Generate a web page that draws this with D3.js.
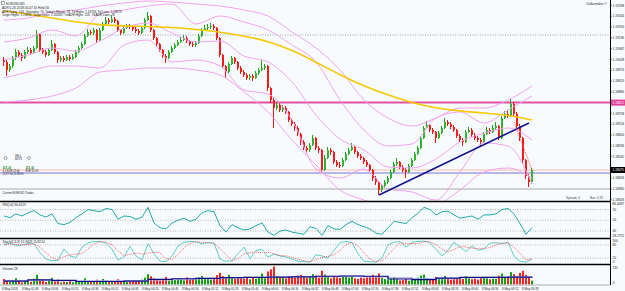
<!DOCTYPE html>
<html>
<head>
<meta charset="utf-8">
<title>EURUSD,M1</title>
<script src="https://cdn.jsdelivr.net/npm/d3@7/dist/d3.min.js"></script>
<style>
    body { margin: 0; background: #f8fbfe; }
    svg { display: block; font-family: "Liberation Sans", Arial, sans-serif; }
</style>
</head>
<body>
<svg id="mysvg" width="625" height="291"></svg>
<script>
// EURUSD M1 bars, one entry per bar
var opens = [
    1.19025, 1.19015, 1.18975, 1.18995, 1.19035, 1.19065, 1.19050, 1.19035, 1.19065, 1.19075,
    1.19060, 1.19085, 1.19155, 1.19075, 1.19065, 1.19050, 1.19075, 1.19105, 1.19065, 1.19025,
    1.19035, 1.19025, 1.19040, 1.19030, 1.19040, 1.19065, 1.19085, 1.19105, 1.19145, 1.19165,
    1.19160, 1.19175, 1.19125, 1.19175, 1.19205, 1.19225, 1.19215, 1.19230, 1.19220, 1.19175,
    1.19160, 1.19185, 1.19195, 1.19190, 1.19180, 1.19170, 1.19160, 1.19185, 1.19225, 1.19245,
    1.19175, 1.19135, 1.19105, 1.19075, 1.19045, 1.19035, 1.19065, 1.19085, 1.19100, 1.19115,
    1.19125, 1.19135, 1.19120, 1.19105, 1.19100, 1.19110, 1.19145, 1.19175, 1.19185, 1.19190,
    1.19195, 1.19185, 1.19135, 1.19050, 1.18995, 1.18965, 1.19005, 1.19035, 1.19015, 1.18985,
    1.18965, 1.18950, 1.18935, 1.18945, 1.18935, 1.18960, 1.18975, 1.18985, 1.18995, 1.18885,
    1.18825, 1.18785, 1.18800, 1.18775, 1.18785, 1.18765, 1.18725, 1.18705, 1.18685, 1.18655,
    1.18615, 1.18585, 1.18575, 1.18600, 1.18635, 1.18585, 1.18575, 1.18475, 1.18535, 1.18575,
    1.18565, 1.18515, 1.18500, 1.18495, 1.18525, 1.18555, 1.18575, 1.18590, 1.18565, 1.18545,
    1.18535, 1.18515, 1.18500, 1.18475, 1.18435, 1.18415, 1.18375, 1.18395, 1.18415, 1.18435,
    1.18465, 1.18505, 1.18515, 1.18490, 1.18475, 1.18465, 1.18495, 1.18525, 1.18555, 1.18585,
    1.18635, 1.18685, 1.18700, 1.18675, 1.18665, 1.18635, 1.18660, 1.18685, 1.18715, 1.18705,
    1.18690, 1.18675, 1.18645, 1.18625, 1.18615, 1.18665, 1.18675, 1.18650, 1.18635, 1.18625,
    1.18615, 1.18655, 1.18675, 1.18665, 1.18685, 1.18695, 1.18635, 1.18735, 1.18755, 1.18745,
    1.18805, 1.18755, 1.18695, 1.18635, 1.18525, 1.18445, 1.18415];
var highs = [
    1.19040, 1.19025, 1.19005, 1.19045, 1.19080, 1.19075, 1.19060, 1.19075, 1.19090, 1.19085,
    1.19095, 1.19175, 1.19160, 1.19085, 1.19075, 1.19085, 1.19125, 1.19110, 1.19070, 1.19045,
    1.19045, 1.19050, 1.19050, 1.19055, 1.19075, 1.19095, 1.19115, 1.19155, 1.19180, 1.19175,
    1.19185, 1.19180, 1.19185, 1.19215, 1.19240, 1.19235, 1.19250, 1.19240, 1.19225, 1.19180,
    1.19195, 1.19205, 1.19205, 1.19200, 1.19190, 1.19180, 1.19195, 1.19235, 1.19265, 1.19250,
    1.19180, 1.19140, 1.19110, 1.19080, 1.19055, 1.19075, 1.19095, 1.19110, 1.19125, 1.19140,
    1.19150, 1.19145, 1.19125, 1.19115, 1.19120, 1.19155, 1.19185, 1.19200, 1.19205, 1.19210,
    1.19205, 1.19190, 1.19140, 1.19055, 1.19000, 1.19015, 1.19045, 1.19040, 1.19020, 1.18995,
    1.18975, 1.18960, 1.18955, 1.18955, 1.18970, 1.18985, 1.19025, 1.19005, 1.19000, 1.18890,
    1.18835, 1.18815, 1.18810, 1.18800, 1.18795, 1.18770, 1.18735, 1.18715, 1.18695, 1.18660,
    1.18625, 1.18595, 1.18610, 1.18650, 1.18640, 1.18595, 1.18580, 1.18550, 1.18590, 1.18585,
    1.18570, 1.18525, 1.18515, 1.18535, 1.18565, 1.18585, 1.18610, 1.18595, 1.18570, 1.18555,
    1.18540, 1.18525, 1.18505, 1.18480, 1.18445, 1.18420, 1.18405, 1.18425, 1.18445, 1.18475,
    1.18515, 1.18535, 1.18520, 1.18500, 1.18485, 1.18505, 1.18535, 1.18565, 1.18595, 1.18645,
    1.18695, 1.18720, 1.18705, 1.18685, 1.18670, 1.18670, 1.18695, 1.18735, 1.18725, 1.18715,
    1.18700, 1.18680, 1.18655, 1.18635, 1.18675, 1.18690, 1.18685, 1.18660, 1.18645, 1.18635,
    1.18665, 1.18690, 1.18685, 1.18700, 1.18715, 1.18700, 1.18745, 1.18770, 1.18775, 1.18830,
    1.18815, 1.18765, 1.18705, 1.18640, 1.18530, 1.18455, 1.18485];
var lows = [
    1.18995, 1.18945, 1.18965, 1.18985, 1.19025, 1.19040, 1.19020, 1.19030, 1.19055, 1.19050,
    1.19055, 1.19080, 1.19065, 1.19055, 1.19040, 1.19045, 1.19070, 1.19055, 1.19010, 1.19015,
    1.19015, 1.19020, 1.19020, 1.19025, 1.19035, 1.19060, 1.19080, 1.19100, 1.19140, 1.19150,
    1.19150, 1.19110, 1.19120, 1.19170, 1.19200, 1.19205, 1.19210, 1.19210, 1.19165, 1.19150,
    1.19155, 1.19180, 1.19180, 1.19170, 1.19160, 1.19150, 1.19155, 1.19180, 1.19220, 1.19165,
    1.19125, 1.19095, 1.19065, 1.19035, 1.19010, 1.19030, 1.19060, 1.19080, 1.19095, 1.19110,
    1.19120, 1.19110, 1.19095, 1.19090, 1.19090, 1.19105, 1.19140, 1.19170, 1.19175, 1.19180,
    1.19175, 1.19125, 1.19040, 1.18985, 1.18935, 1.18960, 1.19000, 1.19005, 1.18975, 1.18955,
    1.18940, 1.18925, 1.18925, 1.18920, 1.18930, 1.18950, 1.18970, 1.18975, 1.18870, 1.18810,
    1.18685, 1.18775, 1.18765, 1.18765, 1.18755, 1.18715, 1.18695, 1.18670, 1.18645, 1.18600,
    1.18575, 1.18560, 1.18565, 1.18595, 1.18575, 1.18560, 1.18460, 1.18470, 1.18530, 1.18550,
    1.18505, 1.18490, 1.18485, 1.18490, 1.18520, 1.18550, 1.18570, 1.18555, 1.18535, 1.18525,
    1.18505, 1.18490, 1.18465, 1.18420, 1.18400, 1.18350, 1.18365, 1.18385, 1.18405, 1.18430,
    1.18460, 1.18495, 1.18480, 1.18465, 1.18435, 1.18460, 1.18490, 1.18520, 1.18550, 1.18580,
    1.18630, 1.18680, 1.18665, 1.18655, 1.18610, 1.18630, 1.18655, 1.18680, 1.18695, 1.18680,
    1.18665, 1.18635, 1.18615, 1.18595, 1.18610, 1.18660, 1.18640, 1.18625, 1.18615, 1.18595,
    1.18610, 1.18650, 1.18655, 1.18660, 1.18675, 1.18625, 1.18630, 1.18730, 1.18735, 1.18740,
    1.18745, 1.18685, 1.18620, 1.18510, 1.18430, 1.18390, 1.18405];
var closes = [
    1.19015, 1.18975, 1.18995, 1.19035, 1.19065, 1.19050, 1.19035, 1.19065, 1.19075, 1.19060,
    1.19085, 1.19155, 1.19075, 1.19065, 1.19050, 1.19075, 1.19105, 1.19065, 1.19025, 1.19035,
    1.19025, 1.19040, 1.19030, 1.19040, 1.19065, 1.19085, 1.19105, 1.19145, 1.19165, 1.19160,
    1.19175, 1.19125, 1.19175, 1.19205, 1.19225, 1.19215, 1.19230, 1.19220, 1.19175, 1.19160,
    1.19185, 1.19195, 1.19190, 1.19180, 1.19170, 1.19160, 1.19185, 1.19225, 1.19245, 1.19175,
    1.19135, 1.19105, 1.19075, 1.19045, 1.19035, 1.19065, 1.19085, 1.19100, 1.19115, 1.19125,
    1.19135, 1.19120, 1.19105, 1.19100, 1.19110, 1.19145, 1.19175, 1.19185, 1.19190, 1.19195,
    1.19185, 1.19135, 1.19050, 1.18995, 1.18965, 1.19005, 1.19035, 1.19015, 1.18985, 1.18965,
    1.18950, 1.18935, 1.18945, 1.18935, 1.18960, 1.18975, 1.18985, 1.18995, 1.18885, 1.18825,
    1.18785, 1.18800, 1.18775, 1.18785, 1.18765, 1.18725, 1.18705, 1.18685, 1.18655, 1.18615,
    1.18585, 1.18575, 1.18600, 1.18635, 1.18585, 1.18575, 1.18475, 1.18535, 1.18575, 1.18565,
    1.18515, 1.18500, 1.18495, 1.18525, 1.18555, 1.18575, 1.18590, 1.18565, 1.18545, 1.18535,
    1.18515, 1.18500, 1.18475, 1.18435, 1.18415, 1.18375, 1.18395, 1.18415, 1.18435, 1.18465,
    1.18505, 1.18515, 1.18490, 1.18475, 1.18465, 1.18495, 1.18525, 1.18555, 1.18585, 1.18635,
    1.18685, 1.18700, 1.18675, 1.18665, 1.18635, 1.18660, 1.18685, 1.18715, 1.18705, 1.18690,
    1.18675, 1.18645, 1.18625, 1.18615, 1.18665, 1.18675, 1.18650, 1.18635, 1.18625, 1.18615,
    1.18655, 1.18675, 1.18665, 1.18685, 1.18695, 1.18635, 1.18735, 1.18755, 1.18745, 1.18805,
    1.18755, 1.18695, 1.18635, 1.18525, 1.18445, 1.18415, 1.18475];
// tick volume per bar
var volumes = [
    40, 22, 18, 30, 45, 25, 15, 28, 35, 20, 42, 70, 38, 25, 18, 30,
    48, 22, 35, 15, 20, 18, 25, 16, 30, 22, 28, 45, 25, 18, 20, 35,
    28, 40, 32, 18, 25, 20, 38, 22, 25, 18, 20, 22, 30, 24, 35, 50,
    75, 60, 45, 38, 30, 35, 55, 28, 40, 32, 45, 38, 30, 52, 35, 42,
    38, 50, 62, 45, 40, 35, 42, 68, 85, 60, 55, 70, 48, 40, 52, 45,
    40, 48, 38, 55, 42, 50, 80, 45, 95, 110, 131, 60, 55, 48, 45, 62,
    58, 50, 65, 70, 55, 48, 60, 75, 65, 50, 100, 72, 58, 45, 60, 52,
    48, 55, 62, 50, 58, 45, 40, 50, 45, 52, 60, 70, 55, 80, 48, 40,
    35, 42, 55, 38, 30, 32, 40, 28, 35, 42, 50, 65, 72, 48, 40, 35,
    55, 42, 50, 62, 40, 35, 38, 45, 48, 40, 60, 45, 38, 42, 35, 48,
    50, 45, 38, 42, 40, 65, 80, 55, 50, 90, 75, 60, 85, 100, 70, 55, 28];

// main chart indicators, one value every 8 bars
var maLine = [1.19270, 1.19255, 1.19235, 1.19215, 1.19200, 1.19195, 1.19193, 1.19188, 1.19178, 1.19165, 1.19145, 1.19120,
    1.19075, 1.19015, 1.18950, 1.18895, 1.18850, 1.18810, 1.18785, 1.18770, 1.18760, 1.18750, 1.18725];
var bbUpperWide = [1.19225, 1.19235, 1.19265, 1.19275, 1.19295, 1.19310, 1.19320, 1.19315, 1.19305, 1.19295, 1.19275, 1.19245,
    1.19165, 1.19085, 1.18975, 1.18825, 1.18735, 1.18695, 1.18735, 1.18785, 1.18785, 1.18825, 1.18895];
var bbUpper = [1.19115, 1.19135, 1.19175, 1.19145, 1.19255, 1.19275, 1.19295, 1.19305, 1.19205, 1.19245, 1.19215, 1.19175,
    1.19100, 1.19015, 1.18825, 1.18675, 1.18595, 1.18605, 1.18735, 1.18765, 1.18710, 1.18775, 1.18845];
var bbMiddle = [1.19025, 1.19050, 1.19085, 1.19070, 1.19120, 1.19185, 1.19210, 1.19160, 1.19115, 1.19120, 1.19045, 1.19015,
    1.18915, 1.18750, 1.18630, 1.18575, 1.18490, 1.18485, 1.18530, 1.18615, 1.18660, 1.18685, 1.18625];
var bbLower = [1.18935, 1.18965, 1.18995, 1.18995, 1.18985, 1.19100, 1.19125, 1.19015, 1.19025, 1.18995, 1.18875, 1.18855,
    1.18725, 1.18480, 1.18435, 1.18480, 1.18380, 1.18365, 1.18325, 1.18465, 1.18610, 1.18595, 1.18405];
var bbLowerWide = [1.18815, 1.18825, 1.18845, 1.18885, 1.18965, 1.18975, 1.18985, 1.18985, 1.18975, 1.18950, 1.18865, 1.18765,
    1.18625, 1.18500, 1.18375, 1.18325, 1.18285, 1.18265, 1.18295, 1.18375, 1.18465, 1.18485, 1.18435];
var volMaFast = [24, 34, 30, 22, 22, 24, 38, 42, 44, 50, 52, 54, 56, 60, 62, 60, 40, 36, 46, 52, 52, 54, 55];
var volMaSlow = [28, 30, 28, 26, 26, 28, 34, 40, 44, 48, 52, 54, 56, 58, 60, 56, 48, 40, 44, 50, 52, 54, 56];

// oscillators, one value every 2 bars
var rsiValues = [
    58, 55, 62, 58, 64, 68, 60, 56, 62, 44, 42, 46, 55, 62, 70, 68, 66, 72, 70, 52,
    58, 57, 52, 56, 74, 45, 36, 34, 45, 50, 54, 48, 52, 64, 68, 66, 40, 28, 42, 36,
    32, 34, 40, 45, 28, 22, 30, 32, 28, 26, 24, 38, 35, 22, 40, 34, 33, 42, 48, 42,
    38, 34, 26, 24, 36, 48, 46, 44, 55, 63, 74, 70, 60, 66, 67, 60, 54, 56, 58, 52,
    60, 60, 62, 70, 72, 62, 44, 24, 36.45];
var stochMain = [
    82, 88, 75, 80, 86, 84, 45, 15, 8, 10, 62, 30, 22, 70, 90, 95, 96, 88, 60, 12,
    25, 73, 30, 12, 85, 40, 6, 4, 30, 75, 92, 96, 94, 85, 90, 88, 15, 5, 8, 40,
    70, 18, 55, 60, 25, 38, 30, 25, 15, 6, 4, 2, 35, 30, 20, 55, 90, 96, 90, 40,
    6, 3, 2, 20, 80, 92, 95, 70, 92, 96, 97, 90, 60, 30, 55, 92, 70, 50, 75, 55,
    62, 88, 90, 86, 92, 30, 5, 2, 15.94];
var stochSignal = [
    80, 84, 82, 80, 82, 85, 70, 45, 22, 11, 27, 34, 38, 41, 61, 85, 94, 93, 81, 53,
    32, 37, 43, 38, 43, 46, 44, 17, 13, 36, 66, 88, 94, 92, 90, 88, 64, 36, 9, 18,
    39, 43, 48, 44, 47, 41, 31, 31, 23, 15, 8, 4, 14, 22, 28, 35, 55, 80, 92, 75,
    45, 16, 4, 8, 34, 64, 89, 86, 86, 86, 95, 94, 82, 60, 48, 59, 72, 71, 65, 64,
    64, 68, 80, 88, 89, 69, 42, 12, 15.82];

// horizontal levels and drawn trend lines
var resistanceLevel = 1.18812;
var bidPrice = 1.18475;
var supportLevel = 1.18460;
var tradesLevel = 1.18380;
var dottedLevel = 1.19150;
var trendBars = [125, 175];
var trendPrices = [1.18350, 1.18710];
var dropBars = [170, 176];
var dropPrices = [1.18715, 1.18475];

// axis labels
var priceTicks = [1.18326, 1.18380, 1.18434, 1.18488, 1.18542, 1.18596, 1.18650, 1.18704, 1.18758, 1.18812,
    1.18866, 1.18920, 1.18974, 1.19028, 1.19082, 1.19136, 1.19190, 1.19244, 1.19298];
var rsiTicks = [86.4587, 70, 50, 30, 18.1752];
var stochTicks = [100, 80, 20, 0];
var volumeTicks = [131, 0];
var timeLabels = ["8 May 2018", "8 May 02:48", "8 May 03:04", "8 May 03:20", "8 May 03:36", "8 May 03:52",
    "8 May 04:08", "8 May 04:24", "8 May 04:40", "8 May 04:56", "8 May 05:12", "8 May 05:28", "8 May 05:44",
    "8 May 06:00", "8 May 06:16", "8 May 06:32", "8 May 06:48", "8 May 07:04", "8 May 07:20", "8 May 07:36",
    "8 May 07:52", "8 May 08:08", "8 May 08:24", "8 May 08:40", "8 May 08:56", "8 May 09:12", "8 May 09:28"];

var svg = d3.select("#mysvg");
var axisX = 610.5;
var tiny = "3.2px";

// Scales
var x = d3.scaleLinear().domain([0, closes.length - 1]).range([4, 532]);
var y = d3.scaleLinear().domain([1.18325, 1.19325]).range([200, 0]);
var ry = d3.scaleLinear().domain([18, 87]).range([237.5, 200.4]);
var sy = d3.scaleLinear().domain([0, 100]).range([262.5, 240.5]);
var vy = d3.scaleLinear().domain([0, 131]).range([284.5, 266.5]);
var xt = d3.scalePoint().domain(timeLabels).range([2, 522]);
var bandBars = d3.range(0, closes.length, 8);
var oscBars = d3.range(0, closes.length, 2);

svg.append("rect").attr("width", 625).attr("height", 291).attr("fill", "#f8fbfe");

var defs = svg.append("defs");
defs.append("clipPath").attr("id", "mainClip")
    .append("rect").attr("x", 0).attr("y", 0).attr("width", axisX).attr("height", 201);

var main = svg.append("g").attr("clip-path", "url(#mainClip)");

// horizontal levels
function hLine(price, color, w, dash) {
    main.append("line")
        .attr("x1", 0).attr("x2", axisX)
        .attr("y1", y(price)).attr("y2", y(price))
        .attr("stroke", color)
        .attr("stroke-width", w)
        .attr("stroke-dasharray", dash || null);
}
hLine(dottedLevel, "#8a8a8a", 0.8, "1,1.5");
hLine(tradesLevel, "#a8a8a8", 1);
hLine(supportLevel, "#7b70d8", 1);
hLine(bidPrice, "#f6b9a6", 1.2);
hLine(resistanceLevel, "#e0529f", 2);

// Candles
var candle = main.selectAll(".candle")
    .data(closes)
    .enter().append("g")
    .attr("class", "candle");
candle.append("line")
    .attr("x1", function (d, i) { return x(i) - 0.5; })
    .attr("x2", function (d, i) { return x(i) - 0.5; })
    .attr("y1", function (d, i) { return y(highs[i]); })
    .attr("y2", function (d, i) { return y(lows[i]); })
    .attr("stroke", function (d, i) { return d >= opens[i] ? "#1f9e1f" : "#f01010"; })
    .attr("stroke-width", 1);
candle.append("rect")
    .attr("x", function (d, i) { return x(i) - 1; })
    .attr("width", 2)
    .attr("y", function (d, i) { return y(Math.max(d, opens[i])); })
    .attr("height", function (d, i) { return Math.max(1, Math.abs(y(d) - y(opens[i]))); })
    .attr("fill", function (d, i) { return d >= opens[i] ? "#2fb52f" : "#ff1a1a"; });

// Bollinger bands and moving average
function bandLine(values, scale, color, w, curve) {
    return d3.line()
        .x(function (d, i) { return x(bandBars[i]); })
        .y(function (d) { return scale(d); })
        .curve(curve || d3.curveMonotoneX);
}
[bbUpperWide, bbUpper, bbMiddle, bbLower, bbLowerWide].forEach(function (arr) {
    main.append("path")
        .attr("d", bandLine(arr, y)(arr))
        .attr("fill", "none")
        .attr("stroke", "#f2a4ef")
        .attr("stroke-width", 1);
});
main.append("path")
    .attr("d", bandLine(maLine, y, null, null, d3.curveBasis)(maLine))
    .attr("fill", "none")
    .attr("stroke", "#f5c800")
    .attr("stroke-width", 1.6);

// trend lines
main.append("line")
    .attr("x1", x(trendBars[0])).attr("y1", y(trendPrices[0]))
    .attr("x2", x(trendBars[1])).attr("y2", y(trendPrices[1]))
    .attr("stroke", "#10108a").attr("stroke-width", 1.5);
main.append("line")
    .attr("x1", x(dropBars[0])).attr("y1", y(dropPrices[0]))
    .attr("x2", x(dropBars[1])).attr("y2", y(dropPrices[1]))
    .attr("stroke", "#ff4a4a").attr("stroke-width", 1).attr("stroke-dasharray", "1,1");

// Text on the main chart
function label(tx, ty, str, opts) {
    opts = opts || {};
    return svg.append("text")
        .attr("x", tx).attr("y", ty)
        .attr("font-size", opts.size || tiny)
        .attr("font-weight", opts.bold ? "bold" : null)
        .attr("fill", opts.color || "#222")
        .attr("text-anchor", opts.anchor || "start")
        .text(str);
}
label(6, 4.5, "EURUSD,M1");
svg.append("rect").attr("x", 1.5).attr("y", 1.5).attr("width", 3).attr("height", 3)
    .attr("fill", "none").attr("stroke", "#555").attr("stroke-width", 0.5);
label(2, 9, "ADR 0.26 2018.05.07 16 Hold 56");
label(2, 12.5, "ADR Today: 143, Yesterday: 76, Today's Range: 78, Td Highs: 1.19758, Td Lows: 1.18879", {size: "3px"});
label(2, 16, "Target Highs: 1.19888, Target Lows: 1.18208 / Td ADR Highs: 103, Td ADR Lows: 78", {size: "3px"});
label(607, 5, "Dollarmaker \u00a9", {anchor: "end"});

[5.5, 29].forEach(function (cx) {
    svg.append("circle").attr("cx", cx).attr("cy", 158).attr("r", 1.5)
        .attr("fill", "none").attr("stroke", "#666").attr("stroke-width", 0.6);
});
label(15, 157, "SELL", {size: "2.6px"});
label(15, 160, "BUYS", {size: "2.6px"});
label(2.5, 168.5, "31.0", {size: "4.4px", bold: true, color: "#138a13"});
label(25.5, 168.5, "31.0", {size: "4.4px", bold: true, color: "#138a13"});
label(2.5, 171.8, "3.1 EUR 25.06", {size: "2.6px"});
label(25.5, 171.8, "EUR 31.26", {size: "2.6px"});
label(2.5, 175, "15:27:40 10:48:00", {size: "2.6px"});
label(2.5, 194, "Current EURUSD Trades", {size: "2.8px"});
label(566, 198.5, "Spread: 4", {color: "#444"});
label(590, 198.5, "Bar: 0:25", {color: "#444"});

// Price axis
var shownTicks = priceTicks.filter(function (p) {
    return Math.abs(y(p) - y(resistanceLevel)) > 4 && Math.abs(y(p) - y(bidPrice)) > 4;
});
svg.selectAll(".ptick").data(shownTicks).enter().append("text")
    .attr("class", "ptick")
    .attr("x", 612.5)
    .attr("y", function (d) { return y(d) + 1.1; })
    .attr("font-size", tiny).attr("fill", "#222")
    .text(function (d) { return d.toFixed(5); });
svg.selectAll(".ptickmark").data(priceTicks).enter().append("line")
    .attr("x1", axisX).attr("x2", axisX + 1.5)
    .attr("y1", function (d) { return y(d); }).attr("y2", function (d) { return y(d); })
    .attr("stroke", "#222").attr("stroke-width", 0.5);

function priceBox(price, color) {
    svg.append("rect")
        .attr("x", axisX).attr("y", y(price) - 3)
        .attr("width", 14.5).attr("height", 6)
        .attr("fill", color);
    svg.append("text")
        .attr("x", 612.5).attr("y", y(price) + 1.1)
        .attr("font-size", tiny).attr("fill", "#fff")
        .text(price.toFixed(5));
}
priceBox(resistanceLevel, "#e0409a");
priceBox(bidPrice, "#000");

// RSI window
[70, 50, 30].forEach(function (lv) {
    svg.append("line").attr("x1", 0).attr("x2", axisX)
        .attr("y1", ry(lv)).attr("y2", ry(lv))
        .attr("stroke", "#999").attr("stroke-width", 0.7).attr("stroke-dasharray", "1,1.5");
});
var oscLine = function (scale) {
    return d3.line()
        .x(function (d, i) { return x(oscBars[i]); })
        .y(function (d) { return scale(d); });
};
svg.append("path")
    .attr("d", oscLine(ry)(rsiValues))
    .attr("fill", "none").attr("stroke", "#23aaa6").attr("stroke-width", 1);
label(2.5, 206, "RSI(14) 36.4519");
svg.selectAll(".rtick").data(rsiTicks).enter().append("text")
    .attr("x", 612.5)
    .attr("y", function (d) { return Math.min(236.5, Math.max(204.5, ry(d) + 1.1)); })
    .attr("font-size", tiny).attr("fill", "#222")
    .text(function (d) { return d % 1 ? d.toFixed(4) : d; });

// Stochastic window
[80, 20].forEach(function (lv) {
    svg.append("line").attr("x1", 0).attr("x2", axisX)
        .attr("y1", sy(lv)).attr("y2", sy(lv))
        .attr("stroke", "#999").attr("stroke-width", 0.7).attr("stroke-dasharray", "1,1.5");
});
svg.append("path")
    .attr("d", oscLine(sy)(stochMain))
    .attr("fill", "none").attr("stroke", "#4cc6c0").attr("stroke-width", 0.9);
svg.append("path")
    .attr("d", oscLine(sy)(stochSignal))
    .attr("fill", "none").attr("stroke", "#ff3b3b").attr("stroke-width", 0.8)
    .attr("stroke-dasharray", "1,1");
label(2.5, 243, "Stoch(5,3,3) 15.9429 15.8214");
svg.selectAll(".stick").data(stochTicks).enter().append("text")
    .attr("x", 612.5)
    .attr("y", function (d) { return Math.min(263.3, Math.max(241.6, sy(d) + 1.1)); })
    .attr("font-size", tiny).attr("fill", "#222")
    .text(function (d) { return d; });

// Volume window
svg.selectAll(".vol").data(volumes).enter().append("rect")
    .attr("class", "vol")
    .attr("x", function (d, i) { return x(i) - 1; })
    .attr("width", 2)
    .attr("y", function (d) { return vy(d); })
    .attr("height", function (d) { return vy(0) - vy(d); })
    .attr("fill", function (d, i) { return closes[i] >= opens[i] ? "#16a016" : "#ff2424"; });
var volLine = d3.line()
    .x(function (d, i) { return x(bandBars[i]); })
    .y(function (d) { return vy(d); })
    .curve(d3.curveStepAfter);
svg.append("path").attr("d", volLine(volMaSlow))
    .attr("fill", "none").attr("stroke", "#a9a6e6").attr("stroke-width", 1.4);
svg.append("path").attr("d", volLine(volMaFast))
    .attr("fill", "none").attr("stroke", "#0c0c84").attr("stroke-width", 1.2);
label(2.5, 269.5, "Volume 28");
svg.selectAll(".vtick").data(volumeTicks).enter().append("text")
    .attr("x", 612.5)
    .attr("y", function (d) { return Math.min(284, Math.max(268.5, vy(d) + 1.1)); })
    .attr("font-size", tiny).attr("fill", "#222")
    .text(function (d) { return d; });

// Window borders and right axis
[201.5, 238.5, 264.5].forEach(function (sepY) {
    svg.append("line").attr("x1", 0).attr("x2", axisX)
        .attr("y1", sepY).attr("y2", sepY)
        .attr("stroke", "#000").attr("stroke-width", 1.5);
});
svg.append("line").attr("x1", 0).attr("x2", axisX)
    .attr("y1", 285).attr("y2", 285)
    .attr("stroke", "#9a9a9a").attr("stroke-width", 0.8);
svg.append("line").attr("x1", axisX).attr("x2", axisX)
    .attr("y1", 0).attr("y2", 285)
    .attr("stroke", "#000").attr("stroke-width", 1);

// Time axis
svg.selectAll(".ttick").data(timeLabels).enter().append("text")
    .attr("x", function (d) { return xt(d); })
    .attr("y", 289.5)
    .attr("font-size", "3px").attr("fill", "#222")
    .text(function (d) { return d; });
</script>
</body>
</html>
